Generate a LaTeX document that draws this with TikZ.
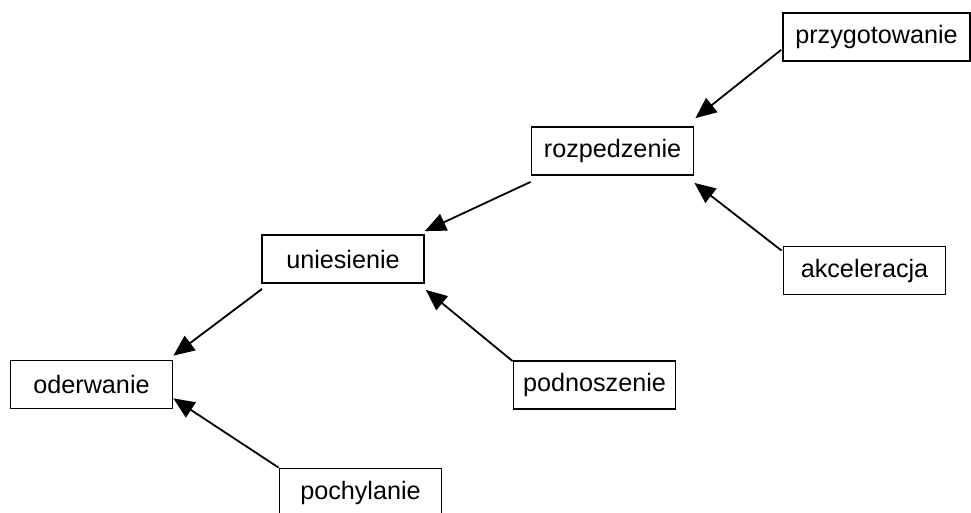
\documentclass[tikz,border=0pt]{standalone}
\usepackage{fontspec}
\setmainfont{Liberation Sans}
\usetikzlibrary{arrows.meta,calc}
\begin{document}
\begin{tikzpicture}[x=1pt,y=-1pt,
  box/.style={draw,line width=1.8pt,rectangle,minimum width=162pt,minimum height=48pt,inner sep=0pt,font=\fontsize{25.2}{28}\selectfont},
  arr/.style={line width=1.8pt,-{Triangle[length=21pt,width=18pt]}}]
\useasboundingbox (0,0) rectangle (971,512);
\node[box,minimum width=187pt] (prz) at (876.5,37) {przygotowanie};
\node[box] (roz) at (612.5,151) {rozpedzenie};
\node[box] (uni) at (343,259) {uniesienie};
\node[box] (akc) at (864.5,270.5) {akceleracja};
\node[box] (pod) at (594.5,385) {podnoszenie};
\node[box] (ode) at (91.5,384.5) {oderwanie};
\node[box] (poc) at (360.5,492.5) {pochylanie};
\draw[arr] ($(prz.south west)+(-1,-12)$) -- ($(roz.north east)+(1,-8)$);
\draw[arr] ($(akc.north west)+(-1,5)$) -- ($(roz.south east)+(0,7)$);
\draw[arr] ($(roz.south west)+(0,6)$) -- ($(uni.north east)+(0,-3)$);
\draw[arr] ($(pod.north west)+(0,1)$) -- ($(uni.south east)+(1,6)$);
\draw[arr] ($(uni.south west)+(1,5)$) -- ($(ode.north east)+(0,-4)$);
\draw[arr] (poc.north west) -- ($(ode.south east)+(0,-11)$);
\end{tikzpicture}
\end{document}
